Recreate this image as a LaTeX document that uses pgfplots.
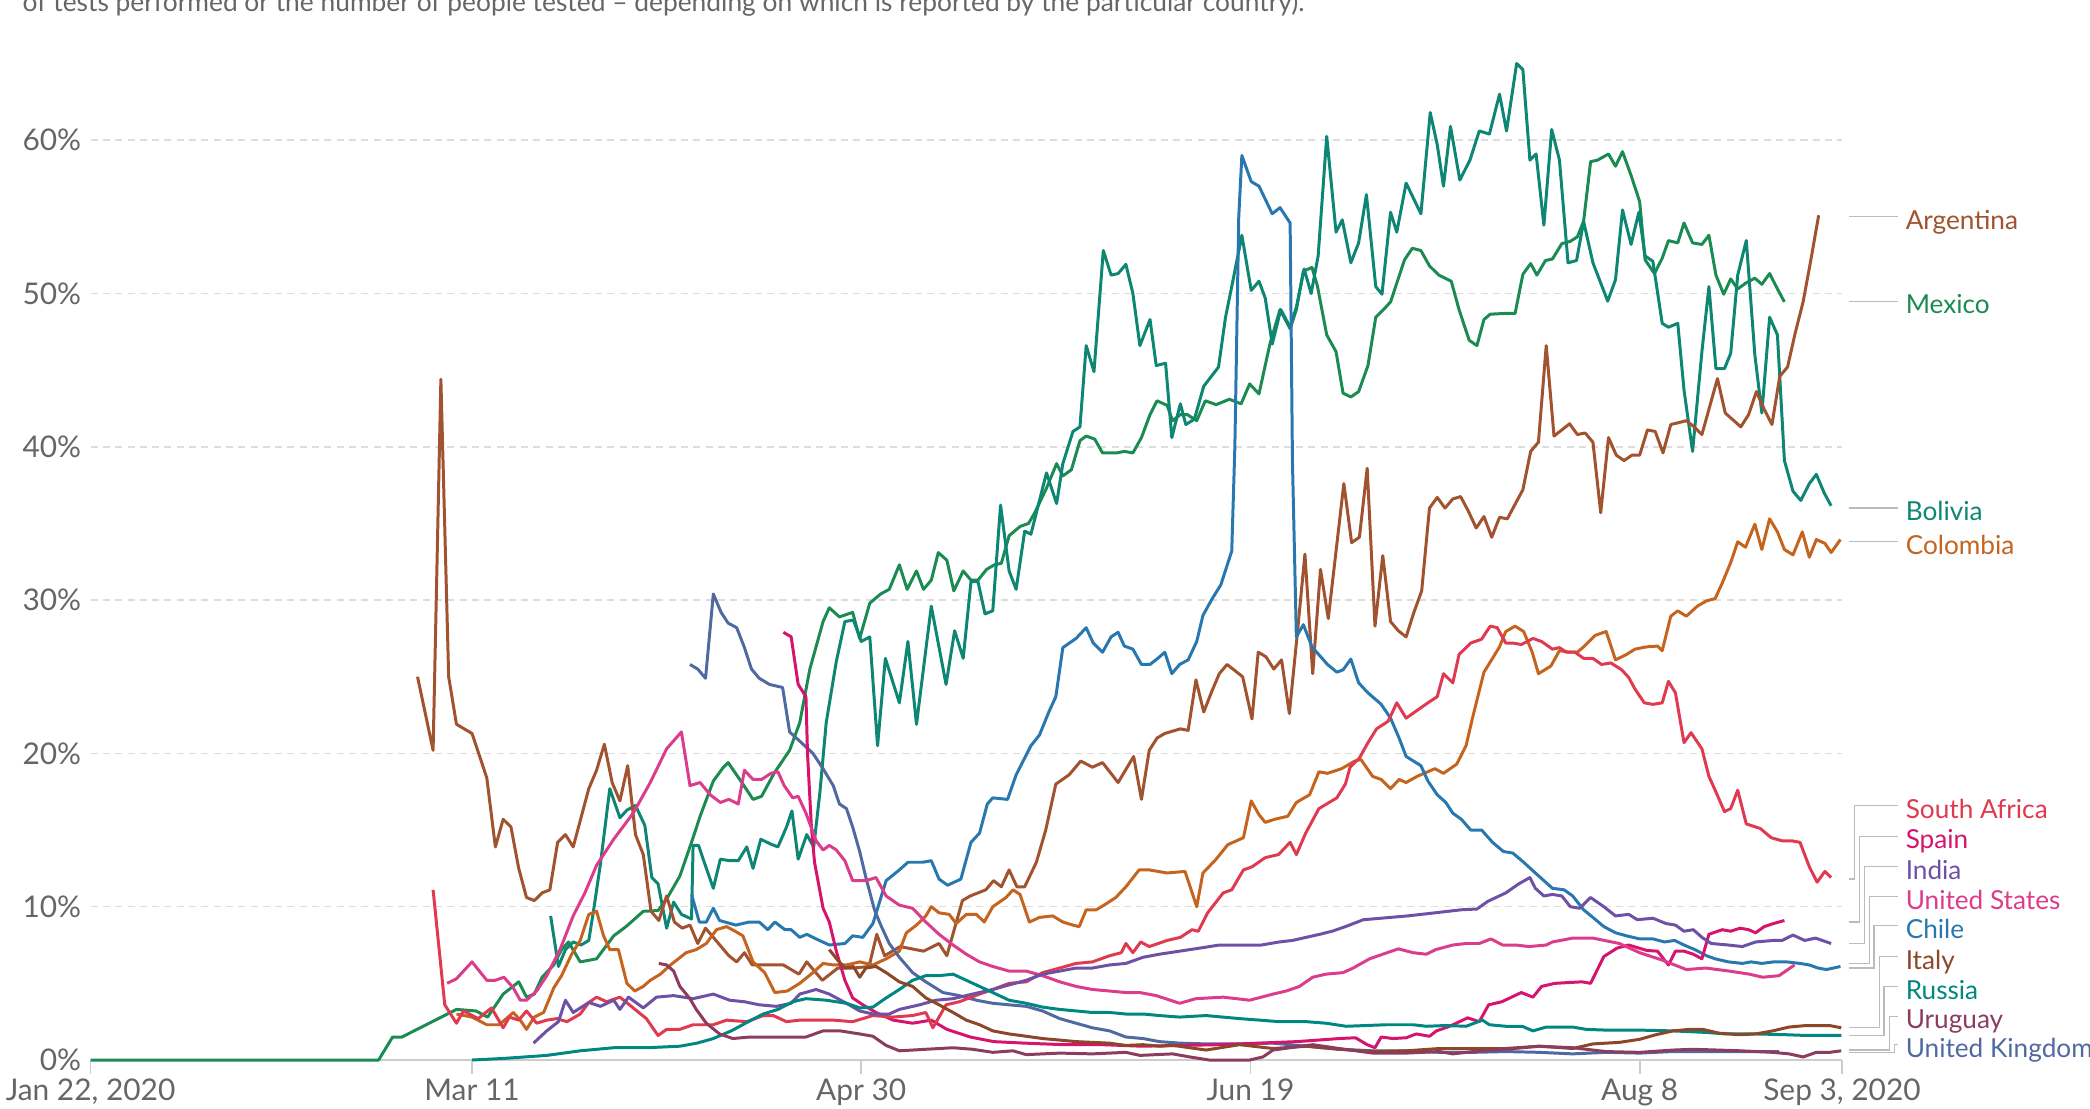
\documentclass[border=0pt]{standalone}
\usepackage{fontspec}
\setmainfont{Lato}
\usepackage{pgfplots}
\pgfplotsset{compat=1.18}

\definecolor{argcol}{HTML}{A1522E}
\definecolor{mexcol}{HTML}{1B8B52}
\definecolor{bolcol}{HTML}{0E8674}
\definecolor{colcol}{HTML}{C4641F}
\definecolor{zafcol}{HTML}{E03A50}
\definecolor{espcol}{HTML}{D6146E}
\definecolor{indcol}{HTML}{6E50A5}
\definecolor{usacol}{HTML}{DC3C8C}
\definecolor{chlcol}{HTML}{2878AF}
\definecolor{itacol}{HTML}{8C4628}
\definecolor{ruscol}{HTML}{008782}
\definecolor{urycol}{HTML}{8C3C5F}
\definecolor{gbrcol}{HTML}{5069A0}
\definecolor{gridgray}{HTML}{DDDDDD}
\definecolor{axisgray}{HTML}{CCCCCC}
\definecolor{labgray}{HTML}{666666}
\definecolor{conngray}{HTML}{BBBBBB}

\newcommand{\ticklab}{\fontsize{8.5}{10}\selectfont}
\newcommand{\lab}{\fontsize{7.45}{9}\selectfont}

\tikzset{
  ser/.style={line width=0.85pt, line join=round},
  conn/.style={conngray, line width=0.35pt},
  clab/.style={anchor=west, inner sep=0pt, font=\lab, text height=0.72em, text depth=0pt}
}

\begin{document}
\begin{tikzpicture}
\begin{axis}[
  scale only axis, width=17.514cm, height=10.118cm,
  xmin=0, xmax=225, ymin=0, ymax=66,
  axis lines*=left,
  x axis line style={axisgray, line width=0.6pt},
  y axis line style={draw=none},
  xtick={0,49,99,149,199,225},
  xticklabels={{Jan 22, 2020},{Mar 11},{Apr 30},{Jun 19},{Aug 8},{Sep 3, 2020}},
  ytick={0,10,20,30,40,50,60},
  yticklabels={0\%,10\%,20\%,30\%,40\%,50\%,60\%},
  tick align=outside, major tick length=4pt,
  xtick style={axisgray, line width=0.5pt},
  ytick style={draw=none},
  tick label style={font=\ticklab, text=labgray},
  yticklabel style={xshift=0.17cm},
  xticklabel style={yshift=0.075cm},
  ymajorgrids,
  major grid style={gridgray, line width=0.45pt, dash pattern=on 2pt off 1.5pt},
  clip=false,
]
% Mexico
\addplot[ser, mexcol] coordinates {(0,0)(37,0)(38.8,1.5)(40,1.5)(47,3.3)(49.5,3.2)(51,2.8)(53,4.3)(55,5.1)(56,4.1)(57,4.3)(58,5.4)(59.5,6.2)(60.5,7.2)(61.4,7.7)(62.9,6.4)(65,6.6)(67.2,8.1)(68.9,8.75)(71,9.7)(72.9,9.75)(74,10.5)(75.7,12)(77.4,14.5)(78.3,15.9)(80,18.2)(81.3,19.1)(81.9,19.4)(83.8,18)(85.1,17)(86.2,17.2)(87.8,18.7)(89.8,20.2)(91.1,22)(92.4,25.5)(94.1,28.6)(94.9,29.5)(96.2,28.9)(97.9,29.2)(98.8,27.5)(100.1,29.8)(101.5,30.4)(102.6,30.7)(103.9,32.3)(104.9,30.7)(106.1,31.9)(107,30.7)(108,31.3)(108.9,33.1)(110,32.6)(110.9,30.6)(112.1,31.9)(113.1,31.3)(114,31.3)(115.1,32)(116.1,32.3)(117,32.4)(118,34.2)(119.4,34.8)(120.5,35)(121.3,35.7)(122.8,37.3)(124.1,38.9)(124.9,38.1)(126,38.5)(127.1,40.4)(127.9,40.7)(129,40.5)(130,39.6)(131.8,39.6)(132.8,39.7)(133.9,39.6)(135,40.6)(136.1,42.1)(137,43)(138.3,42.7)(139,41.7)(140,42.1)(140.9,42.1)(142.1,41.7)(143.2,43)(144.6,42.75)(146.3,43.1)(147.8,42.8)(148.9,44.1)(150.1,43.45)(151.5,46.7)(152.8,48.95)(154.1,47.7)(154.9,48.95)(155.8,51.45)(156.9,51.7)(157.6,50.5)(158.8,47.3)(160,46.2)(160.9,43.5)(161.9,43.25)(162.9,43.6)(164.1,45.3)(165.1,48.45)(166.1,48.95)(167,49.45)(168.8,52.2)(169.8,52.95)(170.9,52.8)(172,51.8)(173.2,51.2)(174.8,50.8)(175.8,48.95)(177.1,46.95)(178.1,46.6)(179,48.3)(179.8,48.65)(181.8,48.7)(183,48.7)(184,51.25)(185,51.95)(185.8,51.2)(186.9,52.15)(187.8,52.25)(189,53.25)(190.1,53.4)(191,53.7)(191.8,54.7)(192.7,58.6)(193.6,58.7)(195,59.1)(195.9,58.3)(196.8,59.25)(197.9,57.7)(199,56)(199.7,52.2)(200.9,51.3)(201.9,52.3)(202.7,53.45)(203.9,53.3)(204.7,54.6)(205.8,53.3)(207,53.2)(207.9,53.8)(208.8,51.2)(209.8,49.95)(210.7,50.95)(211.6,50.3)(212.7,50.7)(213.8,51)(214.7,50.6)(215.7,51.3)(216.7,50.3)(217.6,49.45)};
% Bolivia
\addplot[ser, bolcol] coordinates {(59.1,9.4)(60.1,6.1)(61,7.2)(62,7.7)(63,7.5)(64,7.8)(64.6,9.7)(65.5,12.8)(66.7,17.7)(68,15.8)(68.9,16.3)(70,16.6)(71.2,15.3)(72.1,11.9)(72.9,11.5)(74,8.6)(74.9,10.3)(75.9,9.5)(77.2,9.2)(77.4,14)(78.1,14)(78.9,12.8)(80,11.2)(80.9,13.1)(82.1,13)(83.2,13)(84.3,13.9)(85.1,12.5)(86.1,14.4)(87.3,14.1)(88.3,13.9)(89.4,15.2)(90.1,16.25)(90.9,13.1)(92,14.7)(92.9,13.9)(93.7,17.5)(94.5,22)(95.8,26)(96.9,28.6)(98,28.7)(99,27.3)(100.1,27.6)(101.1,20.5)(102.1,26.2)(103.9,23.3)(105,27.3)(106.1,21.9)(108,29.6)(109.9,24.5)(111,28)(112.1,26.2)(113.1,31.2)(114,31.2)(114.9,29.1)(115.9,29.3)(116.9,36.2)(118,31.9)(118.9,30.7)(120,34.5)(120.8,34.3)(122.8,38.3)(124.1,36.3)(124.9,38.9)(126.2,41)(127.1,41.3)(127.9,46.6)(128.9,44.9)(130.1,52.8)(131.1,51.2)(132,51.3)(133,51.9)(133.9,50)(134.8,46.6)(136.1,48.3)(136.9,45.3)(138.1,45.45)(138.9,40.6)(140,42.8)(140.7,41.45)(141.8,41.8)(143,43.95)(144.9,45.2)(145.8,48.45)(146.6,50.45)(147.9,53.8)(149.1,50.2)(150.1,50.8)(150.9,49.7)(151.8,46.7)(152.9,48.95)(154.1,47.8)(154.9,49.1)(155.9,51.6)(156.8,50)(157.7,52.45)(158.8,60.25)(160,54)(160.8,54.8)(161.9,52)(162.9,53.3)(163.9,56.45)(165.1,50.45)(165.9,49.95)(167,55.3)(167.8,54)(169,57.2)(170.9,55.2)(172.1,61.8)(173,59.7)(173.8,57)(174.7,60.9)(175.9,57.4)(177.2,58.7)(178.4,60.6)(179.7,60.4)(181,63)(181.9,60.6)(183.2,65)(184,64.6)(184.9,58.7)(185.7,59.1)(186.7,54.45)(187.7,60.7)(188.7,58.7)(189.8,52)(190.9,52.15)(191.8,54.7)(193,52)(194.9,49.5)(195.9,50.9)(196.8,55.45)(197.9,53.2)(198.9,55.3)(199.7,52.45)(200.7,52.1)(201.9,48.05)(202.7,47.8)(203.9,48.05)(204.7,43.7)(205.8,39.7)(207,46.2)(207.9,50.45)(208.8,45.1)(209.9,45.1)(210.7,46.1)(211.6,51.2)(212.7,53.45)(213.8,46)(214.7,42.2)(215.7,48.45)(216.7,47.3)(217.6,39.1)(218.7,37.1)(219.7,36.5)(220.8,37.6)(221.7,38.2)(222.7,37)(223.6,36.15)};
% Argentina
\addplot[ser, argcol] coordinates {(42,25.0)(44,20.2)(45,44.4)(46,25.0)(47,21.9)(49,21.3)(50.9,18.4)(52,13.9)(53,15.7)(54,15.2)(55,12.5)(56,10.6)(57,10.4)(58,10.9)(59,11.1)(60,14.2)(61,14.7)(62,13.9)(64,17.7)(65,18.9)(66,20.6)(67,18.1)(68,16.9)(69,19.2)(70,14.7)(71,13.4)(72,9.7)(73,9.1)(74,10.7)(75,9.0)(76,8.6)(77,8.8)(78,7.6)(79,8.6)(80,8.0)(82,6.8)(83,6.4)(84,7.0)(85,6.2)(87,6.2)(89,6.2)(91,5.6)(92,6.4)(94,5.2)(96,6.0)(98,6.0)(100,6.1)(101,8.2)(102,6.8)(104,7.4)(107,7.1)(109,7.6)(110,6.8)(112,10.4)(113,10.7)(115,11.1)(116,11.7)(117,11.3)(118,12.4)(119,11.3)(120,11.3)(121.5,12.9)(122.7,15.0)(124,18.0)(125.7,18.6)(127.2,19.5)(128.7,19.1)(130,19.4)(132,18.1)(134,19.8)(135,17.0)(136,20.2)(137,21.0)(138,21.3)(140,21.6)(141,21.5)(142,24.8)(143,22.7)(144,24.0)(145,25.2)(146,25.8)(148,25.0)(149.2,22.25)(150,26.6)(151,26.3)(152,25.5)(153,26.1)(154,22.6)(155,27.7)(156,33.0)(157,25.2)(158,32.0)(159,28.8)(161,37.6)(162,33.75)(163,34.1)(164,38.6)(165,28.3)(166,32.9)(167,28.6)(168,28.0)(169,27.6)(170,29.2)(171,30.6)(172,36.0)(173,36.7)(174,36.0)(175,36.6)(176,36.75)(177,35.8)(178,34.7)(179,35.45)(180,34.1)(181,35.4)(182,35.3)(184,37.2)(185,39.7)(186,40.3)(187,46.6)(188,40.7)(190,41.5)(191,40.8)(192,40.9)(193,40.3)(194,35.7)(195,40.6)(196,39.45)(197,39.1)(198,39.45)(199,39.45)(200,41.1)(201,41.0)(202,39.6)(203,41.45)(205,41.7)(206,41.3)(207,40.8)(209,44.45)(210,42.2)(212,41.3)(213,42.1)(214,43.6)(215,42.45)(216,41.45)(217,44.6)(218,45.2)(219,47.45)(220,49.45)(221,52.2)(222,55.1)};
% Colombia
\addplot[ser, colcol] coordinates {(47,3.0)(49,2.8)(50.9,2.3)(52.5,2.3)(54.3,3.1)(55.2,2.6)(56,2.0)(57,2.8)(58.2,3.1)(59.5,4.7)(60.5,5.5)(61.8,6.9)(62.9,7.8)(64,9.5)(65,9.7)(65.9,8.1)(66.7,7.2)(67.8,7.2)(68.9,5.0)(69.9,4.5)(71,4.8)(71.9,5.2)(73.2,5.6)(74.5,6.2)(76.5,7.0)(77.8,7.2)(79.1,7.6)(80.4,8.5)(81.7,8.7)(82.8,8.4)(83.8,8.1)(85.1,6.4)(86.6,5.7)(87.9,4.4)(89.5,4.5)(91.1,5.0)(92.8,5.7)(94.1,6.3)(95.4,6.2)(97.1,6.2)(98.8,6.4)(100.5,6.2)(102.2,6.6)(103.9,7.1)(104.8,8.3)(106.1,8.8)(107.3,9.4)(108,10)(109,9.6)(110.3,9.5)(111.2,8.9)(112.5,9.5)(113.8,9.5)(114.8,9.0)(115.9,10)(117.6,10.6)(118.5,11.1)(119.4,10.8)(120.6,9.0)(121.9,9.3)(123.6,9.4)(124.9,9.0)(126.2,8.8)(127,8.7)(127.9,9.8)(129.2,9.8)(130.5,10.2)(131.7,10.6)(133,11.3)(134.7,12.4)(136,12.4)(138.3,12.2)(140.6,12.3)(142.1,10)(142.9,12.2)(144.6,13.1)(146.1,14.05)(148.1,14.5)(149.1,16.9)(150.1,16)(150.9,15.5)(152.1,15.7)(153.8,15.9)(154.9,16.8)(156.6,17.3)(157.8,18.8)(158.9,18.7)(160.7,19)(162.4,19.5)(163.2,19.6)(164.7,18.5)(165.8,18.3)(167,17.7)(168.1,18.3)(169,18.1)(170.4,18.5)(172.7,19)(173.8,18.7)(175.5,19.3)(176.7,20.5)(177.5,22.25)(179,25.3)(180.1,26.2)(181,26.95)(181.8,27.95)(183,28.3)(184.1,27.95)(185.2,26.6)(186,25.2)(187.6,25.7)(188.7,26.7)(190,26.6)(191,26.6)(191.8,26.95)(193.3,27.7)(194.7,27.95)(195.9,26.1)(197.3,26.45)(198.4,26.8)(199.9,26.95)(201.3,27)(201.9,26.7)(203,28.95)(203.9,29.3)(205,28.95)(206.4,29.6)(207.6,29.95)(208.7,30.1)(209.6,31.1)(210.7,32.45)(211.6,33.8)(212.6,33.45)(213.8,34.95)(214.7,33.3)(215.7,35.3)(216.7,34.45)(217.6,33.3)(218.7,32.95)(219.9,34.45)(220.8,32.8)(221.7,33.95)(222.8,33.7)(223.6,33.1)(224.8,33.95)};
% Chile
\addplot[ser, chlcol] coordinates {(77.2,10.8)(78.2,9.0)(79.1,9.0)(80,9.9)(80.8,9.1)(82.9,8.8)(84.6,9.0)(85.9,9.0)(87,8.5)(87.9,9.0)(89.2,8.5)(90,8.5)(91.1,8.0)(92,8.2)(93.2,7.9)(94.9,7.5)(96.9,7.6)(97.9,8.1)(99.2,8.0)(100.5,8.9)(102.2,11.7)(103.9,12.4)(105,12.9)(106.9,12.9)(108,13)(109,11.8)(110.1,11.4)(111.8,11.8)(113.1,14.2)(114.2,14.8)(115.2,16.7)(115.9,17.1)(117.8,17)(118.9,18.6)(119.8,19.5)(120.8,20.5)(121.9,21.2)(123.1,22.7)(124,23.7)(124.9,26.9)(126.6,27.5)(127.9,28.2)(128.8,27.2)(130,26.6)(131.1,27.6)(132,27.9)(132.8,27)(133.9,26.8)(135,25.8)(136.1,25.8)(137.1,26.2)(138,26.6)(138.9,25.2)(139.9,25.8)(141,26.1)(142.1,27.3)(142.9,29)(144.1,30.1)(145.2,31)(146.6,33.2)(147,40)(147.5,55)(147.9,59)(149.1,57.3)(150.1,57)(151.8,55.2)(152.8,55.6)(154.1,54.6)(154.4,39)(154.9,27.6)(155.8,28.4)(156.9,26.95)(158.9,25.8)(160.1,25.3)(160.9,25.45)(161.9,26.15)(162.9,24.6)(164.1,23.95)(165.8,23.2)(167,22.3)(168.1,21)(169,19.8)(170.9,19.2)(171.8,18.2)(173,17.3)(174.1,16.8)(175,16.1)(176.1,15.7)(177.3,15)(178.7,15)(180.1,14.2)(181.5,13.6)(182.7,13.5)(184.1,12.9)(185.6,12.2)(186.7,11.7)(187.8,11.2)(189.3,11.1)(190.4,10.7)(191.8,9.8)(193,9.3)(194.4,8.7)(195.9,8.3)(197.3,8.1)(199,7.9)(200.7,7.9)(202.2,7.7)(203.5,7.8)(204.7,7.5)(206.1,7.2)(207.6,6.8)(208.7,6.6)(210.4,6.4)(212.2,6.3)(213.3,6.4)(214.7,6.3)(216.2,6.4)(217.9,6.4)(219.6,6.3)(220.8,6.2)(221.9,6.0)(223,5.9)(224.8,6.1)};
% United Kingdom
\addplot[ser, gbrcol] coordinates {(77,25.8)(78,25.5)(79,24.9)(80,30.4)(81,29.2)(81.9,28.5)(83,28.2)(84,26.9)(84.9,25.5)(85.9,24.9)(87.2,24.5)(88.9,24.3)(89.8,21.4)(91.1,20.8)(92.8,20)(94.1,19)(95.4,17.9)(96.2,16.7)(97.1,16.4)(97.9,15.2)(98.8,13.6)(99.6,11.9)(100.7,9.8)(101.6,8.7)(102.6,7.6)(103.9,6.7)(105.6,5.7)(107.3,5.1)(109.5,4.4)(111.6,4.2)(113.8,3.9)(115.9,3.7)(118,3.6)(120.2,3.5)(122.3,3.2)(124.5,2.7)(126.6,2.4)(128.7,2.1)(130.9,1.9)(133,1.5)(135.2,1.4)(137.3,1.2)(139.9,1.1)(143.3,1.05)(147.6,1.05)(151.9,1.1)(156.2,0.9)(160.4,0.7)(164.7,0.6)(169,0.6)(173.3,0.5)(177.6,0.5)(181.9,0.55)(186.1,0.5)(190.4,0.4)(194.7,0.5)(199,0.45)(203.2,0.55)(207.5,0.55)(211.8,0.55)(216.9,0.55)};
% Spain
\addplot[ser, espcol] coordinates {(89,27.9)(90,27.6)(90.9,24.5)(91.9,23.7)(92.1,20)(92.6,15.2)(93,12.9)(94.1,9.9)(94.9,9)(95.8,7.1)(96.9,5.2)(97.9,4.05)(99.2,3.6)(100.9,3.1)(103.1,2.6)(105.6,2.4)(108,2.6)(110,2.0)(113,1.5)(116,1.2)(120,1.1)(125,1.0)(130,1.0)(135,0.9)(140,0.95)(145,1.0)(150,1.1)(155,1.2)(160.4,1.4)(162.5,1.45)(164,1.0)(165,0.8)(165.8,1.5)(167.3,1.4)(169,1.45)(170.3,1.7)(172,1.55)(172.9,1.9)(174.6,2.2)(176.9,2.75)(178.4,2.5)(179.6,3.6)(181.3,3.8)(183.8,4.4)(185.3,4.1)(186.4,4.8)(188.1,5)(189.8,5.05)(191.6,5.1)(192.7,5.0)(194.4,6.75)(196.1,7.3)(197.6,7.5)(199.9,7.15)(201.3,7.1)(202.7,6.2)(203.6,7.1)(204.7,7.1)(205.9,6.9)(207,6.6)(207.9,8.2)(209.6,8.5)(210.7,8.4)(211.9,8.6)(213,8.5)(213.9,8.3)(215,8.7)(216.2,8.9)(217.6,9.1)};
% United States
\addplot[ser, usacol] coordinates {(45.8,5)(47,5.3)(49,6.4)(50.9,5.2)(52,5.2)(53.1,5.4)(54.3,4.7)(55.2,3.9)(56,3.9)(57.3,4.5)(58.6,5.5)(60.3,7.2)(62,9.4)(63.5,10.9)(65,12.7)(67.2,14.4)(69.7,16.1)(71.9,18.1)(74,20.3)(75.9,21.4)(77,17.9)(78.3,18.1)(79.6,17.3)(80.9,16.8)(82,17)(83.2,16.7)(84,18.9)(85.1,18.3)(86.2,18.3)(87.4,18.7)(88.3,18.8)(89.1,17.9)(90.2,17.1)(90.9,17.2)(91.9,16.1)(93.2,14.3)(94.1,13.7)(94.9,14)(95.8,13.7)(96.9,13)(97.9,11.7)(99.6,11.7)(100.9,11.9)(102.2,10.7)(103.9,10.1)(105.6,9.9)(107.3,9)(109,8.2)(110.8,7.5)(112.5,6.9)(114.2,6.4)(115.9,6.1)(118,5.8)(120.2,5.8)(122.3,5.5)(124.5,5.1)(126.6,4.8)(128.7,4.6)(130.9,4.5)(133,4.4)(134.8,4.4)(136.9,4.2)(139.9,3.7)(142,4.0)(145.5,4.1)(148.9,3.9)(151.9,4.3)(153.6,4.5)(155.3,4.8)(157,5.4)(158.7,5.6)(160.9,5.7)(162.2,6.0)(164.3,6.6)(166,6.9)(168,7.25)(169.9,7.0)(171.6,6.9)(172.8,7.2)(175,7.5)(176.7,7.6)(178.4,7.6)(179.9,7.9)(181.4,7.5)(183.1,7.5)(184.8,7.4)(187,7.5)(187.8,7.7)(190.4,7.95)(193,7.95)(196.4,7.6)(199,7.0)(202,6.5)(205,5.9)(207.5,6.0)(210.5,5.8)(213.1,5.6)(214.8,5.4)(216.9,5.5)(218.9,6.2)};
% South Africa
\addplot[ser, zafcol] coordinates {(44,11.1)(45.5,3.6)(47,2.4)(47.9,3.2)(49.8,2.7)(51.5,3.4)(53,2.1)(53.8,2.8)(55,2.6)(56,3.2)(57.3,2.4)(58.6,2.6)(59.9,2.7)(61.2,2.5)(62.9,3.0)(64,3.75)(65,4.1)(66.3,3.8)(68,4.1)(69.7,3.4)(71.4,2.7)(72.9,1.6)(74,2.0)(75.7,2.0)(77.4,2.3)(80,2.3)(81.7,2.6)(84.3,2.5)(86.4,2.9)(87.7,2.9)(89.4,2.5)(91.1,2.6)(92.8,2.6)(95.4,2.6)(97.9,2.5)(100.5,2.9)(103,2.8)(105.6,2.9)(107.3,3.1)(108.2,2.1)(109.9,3.6)(111.6,3.8)(114.2,4.3)(115.9,4.6)(118,5)(120.2,5.1)(122.3,5.7)(124.5,6)(126.6,6.3)(128.7,6.4)(130.9,6.8)(132.4,7.0)(133,7.6)(133.9,7.0)(134.9,7.7)(136,7.4)(138.3,7.8)(140,8)(141.5,8.5)(142.3,8.4)(143.5,9.6)(145.5,10.9)(146.6,11.1)(148.1,12.4)(149.2,12.6)(150.9,13.2)(152.6,13.4)(154.1,14.2)(154.9,13.4)(156.1,14.8)(157.8,16.4)(160.1,17.1)(161.2,18)(161.8,19.1)(163,19.7)(164.1,20.7)(165.2,21.6)(166.7,22.1)(167.8,23.3)(169,22.3)(170.4,22.8)(171.8,23.3)(173,23.7)(173.8,25.2)(175,24.6)(175.8,26.45)(177.3,27.2)(178.7,27.45)(179.8,28.3)(180.7,28.2)(181.8,27.2)(182.7,27.2)(183.8,27.1)(185.3,27.5)(186.4,27.3)(187.8,26.8)(188.7,26.9)(189.6,26.6)(190.7,26.6)(191.8,26.2)(193,26.2)(194.1,25.8)(195.3,25.9)(196.7,25.45)(197.6,24.95)(198.4,24.2)(199.6,23.3)(200.7,23.2)(201.9,23.3)(202.7,24.7)(203.6,23.95)(204.7,20.7)(205.6,21.35)(207,20.3)(207.9,18.5)(208.7,17.6)(209.9,16.2)(210.7,16.4)(211.6,17.6)(212.7,15.4)(214.5,15.1)(215.9,14.5)(217.3,14.3)(218.5,14.3)(219.6,14.2)(220.8,12.6)(221.8,11.6)(222.8,12.3)(223.6,11.9)};
% India
\addplot[ser, indcol] coordinates {(56.9,1.1)(58.6,1.9)(60.1,2.5)(61,3.9)(62,3.1)(64,3.75)(65.5,3.5)(67.2,3.9)(68,3.3)(69.1,4.1)(71,3.4)(72.7,4.1)(74.9,4.2)(77.4,4.0)(80,4.3)(82.1,3.9)(84,3.8)(85.9,3.6)(88.1,3.5)(90,3.7)(91.1,4.3)(93.2,4.6)(94.9,4.3)(97.1,3.7)(98.8,3.2)(100.5,3.0)(102.6,3.0)(103.9,3.3)(106.5,3.6)(108.6,3.9)(110.8,4.0)(113.3,4.3)(115.9,4.6)(118,4.9)(120.2,5.2)(122.3,5.6)(124.5,5.8)(126.6,6.0)(128.7,6.0)(130.9,6.2)(133,6.3)(135.2,6.7)(137.3,6.9)(139.9,7.1)(142.5,7.3)(145,7.5)(147.6,7.5)(150.4,7.5)(152.7,7.7)(154.4,7.8)(157.9,8.2)(159.5,8.4)(161.2,8.7)(163.5,9.15)(165.8,9.25)(169.2,9.4)(172.7,9.6)(176.1,9.8)(178.1,9.85)(179.5,10.35)(181.8,10.9)(183.5,11.5)(184.9,11.9)(185.6,11.2)(186.7,10.7)(187.8,10.8)(189,10.7)(190.1,10.0)(191.3,9.9)(192.7,10.6)(194.4,10.0)(195.9,9.4)(197.6,9.5)(198.7,9.15)(200.7,9.25)(202.4,8.9)(203.6,8.8)(204.7,8.4)(205.9,8.5)(207,8.0)(208.2,7.6)(210.4,7.5)(212.2,7.4)(213.9,7.7)(216.2,7.8)(217.3,7.8)(218.7,8.15)(220.2,7.8)(221.6,7.95)(223.6,7.6)};
% Russia
\addplot[ser, ruscol] coordinates {(49,0)(53,0.1)(58.6,0.3)(62.9,0.6)(67.2,0.8)(71.4,0.8)(75.7,0.9)(77.9,1.1)(80,1.4)(82.3,1.9)(84.5,2.5)(86.4,3.0)(88.3,3.3)(90.2,3.8)(91.9,4.0)(94.5,3.9)(97.1,3.7)(98.8,3.4)(100.5,3.45)(102.2,4.05)(103.9,4.6)(105.6,5.2)(107.3,5.5)(109,5.5)(110.8,5.6)(112.5,5.2)(114.2,4.8)(115.9,4.4)(118,3.9)(120.2,3.7)(122.3,3.45)(124.5,3.3)(126.6,3.2)(128.7,3.1)(130.9,3.1)(133,3.0)(135.2,3.0)(137.3,2.9)(139.9,2.8)(143.3,2.9)(147.6,2.7)(150.2,2.6)(152.7,2.5)(156.2,2.5)(158.7,2.4)(161.3,2.2)(163.9,2.25)(166.4,2.3)(169.9,2.3)(171.6,2.2)(174.1,2.25)(176.7,2.2)(178.8,2.6)(179.7,2.3)(181.8,2.2)(183.9,2.2)(185.3,1.9)(187,2.15)(190.4,2.15)(192.1,2.0)(194.7,1.95)(199,1.95)(203.2,1.9)(207.5,1.8)(210.1,1.7)(213.9,1.7)(217.8,1.65)(220.4,1.6)(224.9,1.6)};
% Italy
\addplot[ser, itacol] coordinates {(94.9,7.2)(96,6.5)(96.9,6.0)(98,6.1)(98.8,5.4)(99.6,6.0)(100.9,6.1)(102.2,5.7)(103.9,5.1)(105.6,4.8)(107.3,4.05)(109,3.6)(110.8,3.1)(112.5,2.6)(114.2,2.3)(115.9,1.9)(118,1.7)(120.2,1.55)(122.3,1.4)(124.5,1.3)(126.6,1.2)(128.7,1.15)(130.9,1.1)(133,0.95)(135.2,1.0)(137.3,0.9)(139.1,0.95)(143.3,0.65)(147.6,1.0)(151.9,0.75)(156.2,0.9)(160.4,0.7)(164.7,0.55)(169,0.6)(173.3,0.75)(177.6,0.75)(181.8,0.75)(186.1,0.9)(190.4,0.75)(193,1.05)(196.4,1.15)(199,1.35)(201.1,1.65)(203.3,1.9)(205.4,2.0)(207.1,2.0)(209.2,1.75)(211.8,1.65)(213.9,1.7)(216.1,1.9)(218.2,2.15)(220.4,2.25)(223.4,2.25)(224.9,2.1)};
% Uruguay
\addplot[ser, urycol] coordinates {(73,6.3)(74,6.2)(74.9,5.8)(75.7,4.8)(77,4.0)(77.8,3.3)(79.1,2.4)(80.8,1.7)(82.5,1.4)(84.7,1.5)(88,1.5)(91.9,1.5)(94.1,1.9)(96.3,1.9)(98.8,1.7)(100.5,1.55)(102.2,0.95)(103.9,0.6)(107.3,0.7)(110.8,0.8)(113.3,0.7)(115.9,0.5)(118.5,0.6)(120.2,0.35)(124.5,0.45)(128.7,0.4)(133,0.5)(134.8,0.3)(139,0.4)(141.2,0.2)(143.7,0.0)(148.9,0.0)(150.6,0.2)(151.9,0.65)(157,1.0)(160.4,0.75)(164.7,0.45)(169,0.45)(173.3,0.55)(175,0.4)(177.6,0.55)(181.8,0.7)(186.1,0.9)(190.4,0.8)(194.7,0.55)(199,0.5)(203.3,0.65)(205.8,0.7)(209,0.65)(212,0.6)(216.1,0.5)(218.2,0.4)(220,0.2)(221.7,0.5)(223.4,0.5)(224.9,0.6)};

% line labels with connectors
\draw[conn] (axis cs:225.94,55.0) -- (axis cs:232.2,55.0);
\node[clab, text=argcol] at (axis cs:233.1,55.0) {Argentina};
\draw[conn] (axis cs:225.94,49.5) -- (axis cs:232.2,49.5);
\node[clab, text=mexcol] at (axis cs:233.1,49.5) {Mexico};
\draw[conn] (axis cs:225.94,36.0) -- (axis cs:232.2,36.0);
\node[clab, text=bolcol] at (axis cs:233.1,36.0) {Bolivia};
\draw[conn] (axis cs:225.94,33.8) -- (axis cs:232.2,33.8);
\node[clab, text=colcol] at (axis cs:233.1,33.8) {Colombia};
\draw[conn] (axis cs:225.94,11.8) -| (axis cs:226.6,16.6) -- (axis cs:232.2,16.6);
\node[clab, text=zafcol] at (axis cs:233.1,16.6) {South Africa};
\draw[conn] (axis cs:225.94,9.0) -| (axis cs:227.2,14.6) -- (axis cs:232.2,14.6);
\node[clab, text=espcol] at (axis cs:233.1,14.6) {Spain};
\draw[conn] (axis cs:225.94,7.6) -| (axis cs:227.9,12.6) -- (axis cs:232.2,12.6);
\node[clab, text=indcol] at (axis cs:233.1,12.6) {India};
\draw[conn] (axis cs:225.94,6.3) -| (axis cs:228.5,10.65) -- (axis cs:232.2,10.65);
\node[clab, text=usacol] at (axis cs:233.1,10.65) {United States};
\draw[conn] (axis cs:225.94,6.0) -| (axis cs:229.1,8.75) -- (axis cs:232.2,8.75);
\node[clab, text=chlcol] at (axis cs:233.1,8.75) {Chile};
\draw[conn] (axis cs:225.94,2.1) -| (axis cs:229.8,6.75) -- (axis cs:232.2,6.75);
\node[clab, text=itacol] at (axis cs:233.1,6.75) {Italy};
\draw[conn] (axis cs:225.94,1.6) -| (axis cs:230.4,4.8) -- (axis cs:232.2,4.8);
\node[clab, text=ruscol] at (axis cs:233.1,4.8) {Russia};
\draw[conn] (axis cs:225.94,0.65) -| (axis cs:231.1,2.85) -- (axis cs:232.2,2.85);
\node[clab, text=urycol] at (axis cs:233.1,2.85) {Uruguay};
\draw[conn] (axis cs:225.94,0.5) -| (axis cs:231.7,1.0) -- (axis cs:232.2,1.0);
\node[clab, text=gbrcol] at (axis cs:233.1,1.0) {United Kingdom};
\end{axis}
% subtitle line cut by the top edge
\node[anchor=base west, inner sep=0pt, text=labgray, font=\fontsize{7.5}{9}\selectfont] at (-0.686cm,10.48cm) {of tests performed or the number of people tested – depending on which is reported by the particular country).};
\pgfresetboundingbox
\path[use as bounding box] (-0.906cm,-0.48cm) rectangle (19.994cm,10.60cm);
\end{tikzpicture}
\end{document}
